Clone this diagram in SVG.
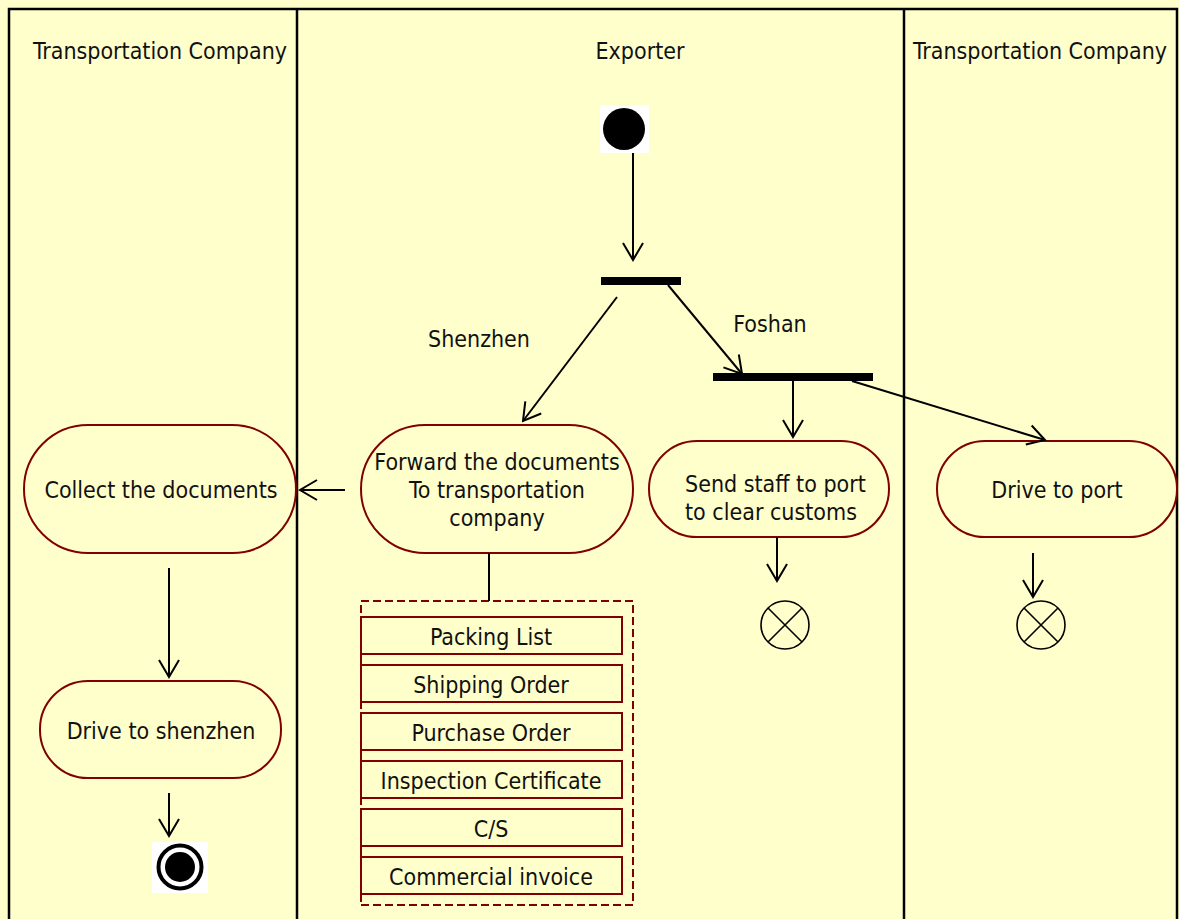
<svg xmlns="http://www.w3.org/2000/svg" width="1179" height="919" viewBox="0 0 1179 919">
<defs>
<style>
.lbl{font-family:"DejaVu Sans Condensed","DejaVu Sans",sans-serif;font-size:23px;fill:#111;}
.c{text-anchor:middle;}
.act{fill:#FFFFCC;stroke:#800000;stroke-width:2;}
.doc{fill:#FFFFCC;stroke:#800000;stroke-width:2;}
.edge{stroke:#000;stroke-width:2;fill:none;}
.ff{fill:none;stroke:#000;stroke-width:1.6;}
</style>
<marker id="arr" viewBox="-20 -12 22 24" refX="0" refY="0" markerWidth="22" markerHeight="24" markerUnits="userSpaceOnUse" orient="auto">
<path d="M-17,-10 L0,0 L-17,10" fill="none" stroke="#000" stroke-width="2"/>
</marker>
</defs>
<rect x="0" y="0" width="1179" height="919" fill="#FFFFCC"/>
<g id="lanes">
<path d="M9,925 V9 H1177 V925 M297,9 V925 M904,9 V925" fill="none" stroke="#000" stroke-width="2.5"/>
<text class="lbl c" x="160" y="59">Transportation Company</text>
<text class="lbl c" x="640" y="59">Exporter</text>
<text class="lbl c" x="1040" y="59">Transportation Company</text>
</g>
<g id="start">
<rect x="600" y="105" width="49" height="48" fill="#fff"/>
<circle cx="624" cy="129" r="21" fill="#000"/>
</g>
<g id="fork1"><rect x="601" y="277" width="80" height="8" fill="#000"/></g>
<g id="fork2"><rect x="713" y="373" width="160" height="8" fill="#000"/></g>
<g id="forward">
<rect class="act" x="361" y="425" width="272" height="128" rx="64" ry="64"/>
<text class="lbl c" x="497" y="470">Forward the documents</text>
<text class="lbl c" x="497" y="498">To transportation</text>
<text class="lbl c" x="497" y="526">company</text>
</g>
<g id="collect">
<rect class="act" x="24" y="425" width="272" height="128" rx="64" ry="64"/>
<text class="lbl c" x="161" y="498">Collect the documents</text>
</g>
<g id="driveshenzhen">
<rect class="act" x="40" y="681" width="241" height="97" rx="48" ry="48"/>
<text class="lbl c" x="161" y="739">Drive to shenzhen</text>
</g>
<g id="sendstaff">
<rect class="act" x="649" y="441" width="240" height="96" rx="48" ry="48"/>
<text class="lbl" x="685" y="492">Send staff to port</text>
<text class="lbl" x="685" y="520">to clear customs</text>
</g>
<g id="driveport">
<rect class="act" x="937" y="441" width="240" height="96" rx="48" ry="48"/>
<text class="lbl c" x="1057" y="498">Drive to port</text>
</g>
<g id="final">
<rect x="152" y="842" width="56" height="51" fill="#fff"/>
<circle cx="180" cy="867" r="21.5" fill="none" stroke="#000" stroke-width="4"/>
<circle cx="180" cy="867" r="15" fill="#000"/>
</g>
<g id="flowfinal1">
<circle class="ff" cx="785" cy="625" r="24"/>
<path class="ff" d="M768,608 L802,642 M802,608 L768,642"/>
</g>
<g id="flowfinal2">
<circle class="ff" cx="1041" cy="625" r="24"/>
<path class="ff" d="M1024,608 L1058,642 M1058,608 L1024,642"/>
</g>
<g id="documents">
<rect x="361" y="601" width="272" height="304" fill="none" stroke="#800000" stroke-width="2" stroke-dasharray="8,4"/>
<rect class="doc" x="361" y="617" width="261" height="37"/>
<text class="lbl c" x="491" y="645">Packing List</text>
<rect class="doc" x="361" y="665" width="261" height="37"/>
<path d="M361,657 V707" stroke="#800000" stroke-width="2"/>
<text class="lbl c" x="491" y="693">Shipping Order</text>
<rect class="doc" x="361" y="713" width="261" height="37"/>
<text class="lbl c" x="491" y="741">Purchase Order</text>
<rect class="doc" x="361" y="761" width="261" height="37"/>
<path d="M361,755 V803" stroke="#800000" stroke-width="2"/>
<text class="lbl c" x="491" y="789">Inspection Certificate</text>
<rect class="doc" x="361" y="809" width="261" height="37"/>
<text class="lbl c" x="491" y="837">C/S</text>
<rect class="doc" x="361" y="857" width="261" height="37"/>
<path d="M361,853 V902" stroke="#800000" stroke-width="2"/>
<text class="lbl c" x="491" y="885">Commercial invoice</text>
</g>
<g id="connectors">
<path class="edge" d="M633,153 V260" marker-end="url(#arr)"/>
<path class="edge" d="M617,297 L523,421" marker-end="url(#arr)"/>
<path class="edge" d="M668,285 L742,374" marker-end="url(#arr)"/>
<path class="edge" d="M793,381 V437" marker-end="url(#arr)"/>
<path class="edge" d="M852,381 L1045,440" marker-end="url(#arr)"/>
<path class="edge" d="M345,490 H300" marker-end="url(#arr)"/>
<path class="edge" d="M169,568 V677" marker-end="url(#arr)"/>
<path class="edge" d="M777,537 V581" marker-end="url(#arr)"/>
<path class="edge" d="M1033,553 V597" marker-end="url(#arr)"/>
<path class="edge" d="M169,793 V836" marker-end="url(#arr)"/>
<path class="edge" d="M489,553 V601"/>
<text class="lbl c" x="479" y="347">Shenzhen</text>
<text class="lbl c" x="770" y="332">Foshan</text>
</g>
</svg>
